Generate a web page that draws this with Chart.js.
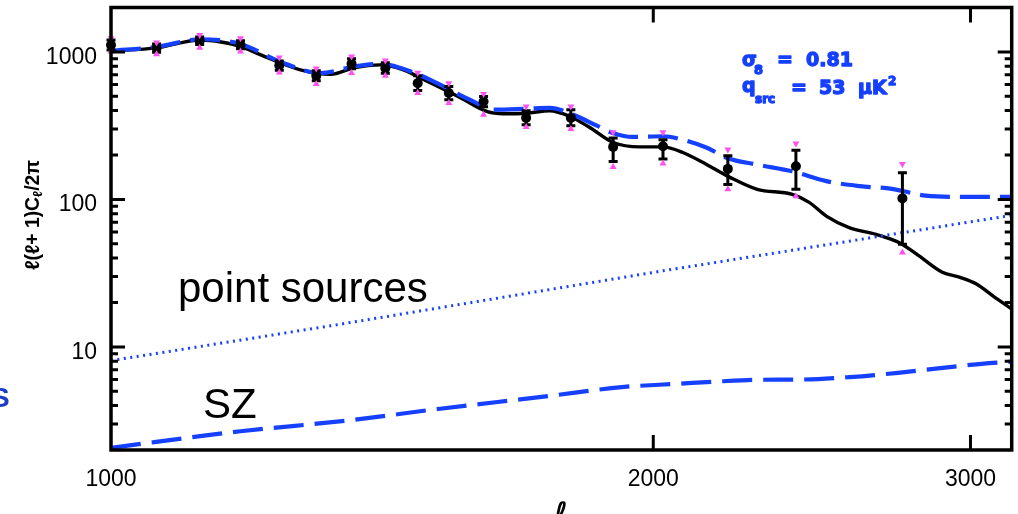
<!DOCTYPE html>
<html><head><meta charset="utf-8">
<script src="https://cdn.jsdelivr.net/npm/chart.js@4/dist/chart.umd.min.js"></script>
<style>html,body{margin:0;padding:0;background:#fff;overflow:hidden}#wrap{width:1018px;height:514px;position:relative}</style>
</head><body><div id="wrap"><canvas id="c" width="1018" height="514"></canvas></div>
<script>
// ---- data ----
const xTickValues = [1000, 2000, 3000];
const yTickValues = [10, 100, 1000];

// band powers (black points) with black error ranges and magenta (alternate) ranges
const ellBins   = [1000,1060,1120,1180,1240,1300,1360,1420,1480,1540,1610,1700,1800,1900,2025,2200,2400,2750];
const bandPower = [1115,1059,1192,1115,808,688,830,776,614,526,461,357,357,227,229,161,168,101.6];
const errLow    = [1031,995,1124,1050,750,637,768,716,548,474,425,321,316,181,188,126,117,49.6];
const errHigh   = [1205,1133,1263,1190,869,744,897,843,688,583,499,399,405,261,254,198,215,151.5];
const altLow    = [1005,965,1069,1005,725,605,718,688,526,450,375,310,300,166,175,117,105,43.6];
const altHigh   = [1238,1156,1303,1238,915,771,930,874,722,614,518,427,427,285,285,218,239,174];

// CMB model (black solid)
const cmbEll = [1000,1060,1121,1151,1180,1211,1274,1324,1364,1411,1453,1504,1563,1618,1651,1701,1752,1798,1845,1899,1966,2025,2077,2142,2206,2284,2389,2441,2495,2569,2659,2738,2809,2894,2958,3023,3087,3162];
const cmbVal = [1016,1064,1205,1168,1090,954,756,705,780,817,756,617,489,393,381,384,399,365,306,244,227,227,208,172,141,117,108,95.4,77.1,64.4,58.0,51.0,41.4,32.1,29.7,26.7,22.2,18.1];

// total model incl. foregrounds (blue dashed)
const totEll = [1000,1060,1121,1180,1242,1307,1364,1411,1447,1504,1582,1634,1701,1752,1806,1861,1899,1948,2025,2077,2142,2198,2284,2389,2495,2604,2713,2833,2958,3162];
const totVal = [1016,1081,1218,1133,856,718,796,830,780,647,474,406,412,417,375,316,282,265,268,254,224,191,172,155,133,123,118,106,104,104];

// point sources (blue dotted)
const psEll = [1000,1324,2025,3162];
const psVal = [8.07,13.9,32.8,78];

// SZ (blue long dashed)
const szEll = [1000,1180,1357,1523,1639,1760,1921,2061,2172,2280,2421,2570,2734,2895,3072,3162];
const szVal = [2.07,2.68,3.18,3.81,4.23,4.69,5.34,5.62,5.83,5.98,6.01,6.24,6.67,7.21,7.76,7.94];

const BLUE = '#1640ff';
const MAG = 'rgb(255,80,240)';
const SANS = '"Liberation Sans", Arial, Helvetica, sans-serif';
const pts = (xs, ys) => xs.map((x, i) => ({x: x, y: ys[i]}));

const errorBars = {
  id: 'errorBars',
  beforeDatasetDraw(chart, args) {
    if (args.index !== 4) return;
    const {ctx, scales: {x, y}} = chart;
    ctx.save();
    ctx.strokeStyle = '#000';
    ctx.lineWidth = 3;
    ellBins.forEach((l, i) => {
      const px = x.getPixelForValue(l);
      const y1 = y.getPixelForValue(errLow[i]);
      const y2 = y.getPixelForValue(errHigh[i]);
      ctx.beginPath();
      ctx.moveTo(px, y1); ctx.lineTo(px, y2);
      ctx.moveTo(px - 4.5, y1); ctx.lineTo(px + 4.5, y1);
      ctx.moveTo(px - 4.5, y2); ctx.lineTo(px + 4.5, y2);
      ctx.stroke();
    });
    ctx.restore();
  }
};

const frame = {
  id: 'frame',
  afterDraw(chart) {
    const {ctx, chartArea: a, scales: {x, y}} = chart;
    ctx.save();
    ctx.strokeStyle = '#000';
    ctx.lineWidth = 3.5;
    ctx.strokeRect(a.left, a.top, a.right - a.left, a.bottom - a.top);
    ctx.lineWidth = 3;
    ctx.beginPath();
    [1, 10, 100, 1000].forEach(d => {
      for (let m = 1; m <= 9; m++) {
        const v = m * d;
        if (v <= y.min || v >= y.max) continue;
        const py = y.getPixelForValue(v);
        const len = (m === 1) ? 14 : 7;
        ctx.moveTo(a.left, py); ctx.lineTo(a.left + len, py);
        ctx.moveTo(a.right, py); ctx.lineTo(a.right - len, py);
      }
    });
    xTickValues.forEach(v => {
      if (v <= x.min || v >= x.max) return;
      const px = x.getPixelForValue(v);
      ctx.moveTo(px, a.bottom); ctx.lineTo(px, a.bottom - 15);
      ctx.moveTo(px, a.top); ctx.lineTo(px, a.top + 15);
    });
    ctx.stroke();

    ctx.fillStyle = '#000';
    ctx.textAlign = 'left';
    ctx.textBaseline = 'alphabetic';
    ctx.font = '42px ' + SANS;
    ctx.fillText('point sources', 178, 302);
    ctx.fillText('SZ', 203, 418);

    // annotation (heavy blue text)
    ctx.fillStyle = BLUE;
    ctx.strokeStyle = BLUE;
    ctx.lineWidth = 1.3;
    ctx.lineJoin = 'round';
    const B = (s) => 'bold ' + s + 'px "DejaVu Sans", sans-serif';
    const T = (t, f, px, py) => { ctx.font = f; ctx.fillText(t, px, py); ctx.strokeText(t, px, py); };
    T('σ', B(19), 742, 66);
    T('8', B(13), 754, 74);
    T('=', B(19), 777, 66);
    T('0.81', B(19), 806, 66);
    T('q', B(19), 742, 92);
    T('src', B(12), 755, 103);
    T('=', B(19), 791, 94);
    T('53', B(19), 819, 94);
    T('μK', B(19), 858, 94);
    T('2', B(12), 888, 85);

    // cut-off blue letter at the left edge
    ctx.fillStyle = '#1e3cc8';
    ctx.font = 'bold 28px ' + SANS;
    ctx.fillText('S', -9, 407);

    // x axis title
    ctx.fillStyle = '#000';
    ctx.font = 'bold italic 28px "DejaVu Sans", sans-serif';
    ctx.textAlign = 'center';
    ctx.fillText('ℓ', 561, 522);

    // y axis title
    ctx.translate(33, 215);
    ctx.rotate(-Math.PI / 2);
    const parts = [['ℓ(ℓ+ 1)C', 'bold 20px ' + SANS, 0], ['ℓ', 'bold 13px ' + SANS, 3], ['/2π', 'bold 20px ' + SANS, 0]];
    let W = 0;
    parts.forEach(p => { ctx.font = p[1]; p.push(ctx.measureText(p[0]).width); W += p[3]; });
    ctx.scale(110 / W, 1);
    let cx = -W / 2;
    ctx.textAlign = 'left';
    parts.forEach(p => { ctx.font = p[1]; ctx.fillText(p[0], cx, 6 + p[2]); cx += p[3]; });
    ctx.restore();
  }
};

new Chart(document.getElementById('c'), {
  type: 'line',
  data: {
    datasets: [
      {data: pts(cmbEll, cmbVal), borderColor: '#000', borderWidth: 3.4, pointRadius: 0, cubicInterpolationMode: 'monotone', fill: false, order: 7},
      {data: pts(totEll, totVal), borderColor: BLUE, borderWidth: 4.2, borderDash: [30, 10], pointRadius: 0, cubicInterpolationMode: 'monotone', fill: false, order: 6},
      {data: pts(psEll, psVal), borderColor: BLUE, borderWidth: 3, borderDash: [2, 4.5], pointRadius: 0, fill: false, order: 5},
      {data: pts(szEll, szVal), borderColor: BLUE, borderWidth: 4.2, borderDash: [30, 11], pointRadius: 0, cubicInterpolationMode: 'monotone', fill: false, order: 4},
      {data: pts(ellBins, bandPower), showLine: false, pointRadius: 5, pointBackgroundColor: '#000', pointBorderWidth: 0, clip: false, order: 3},
      {data: pts(ellBins, altHigh), showLine: false, pointStyle: 'triangle', rotation: 180, pointRadius: 4, pointBackgroundColor: MAG, pointBorderWidth: 0, clip: false, order: 2},
      {data: pts(ellBins, altLow), showLine: false, pointStyle: 'triangle', rotation: 0, pointRadius: 4, pointBackgroundColor: MAG, pointBorderWidth: 0, clip: false, order: 1}
    ]
  },
  options: {
    responsive: false,
    animation: false,
    devicePixelRatio: 1,
    layout: {padding: {left: 0, right: 6.3, top: 7.5, bottom: 0}},
    plugins: {legend: {display: false}, tooltip: {enabled: false}},
    scales: {
      x: {
        type: 'logarithmic', min: 1000, max: 3162.3, position: 'bottom',
        grid: {display: false, drawTicks: false}, border: {display: false},
        ticks: {font: {family: SANS, size: 23}, color: '#000', padding: 16, maxRotation: 0, autoSkip: false, callback: v => String(v)},
        afterBuildTicks: s => { s.ticks = xTickValues.map(v => ({value: v})); },
        afterFit: s => { s.height = 64; s.paddingLeft = 0; s.paddingRight = 0; s.paddingTop = 0; s.paddingBottom = 0; }
      },
      y: {
        type: 'logarithmic', min: 2, max: 2000,
        grid: {display: false, drawTicks: false}, border: {display: false},
        ticks: {font: {family: SANS, size: 23}, color: '#000', padding: 14, labelOffset: 5.5, autoSkip: false, callback: v => String(v)},
        afterBuildTicks: s => { s.ticks = yTickValues.map(v => ({value: v})); },
        afterFit: s => { s.width = 111; s.paddingLeft = 0; s.paddingRight = 0; s.paddingTop = 0; s.paddingBottom = 0; }
      }
    }
  },
  plugins: [errorBars, frame]
});
</script>
</body></html>
